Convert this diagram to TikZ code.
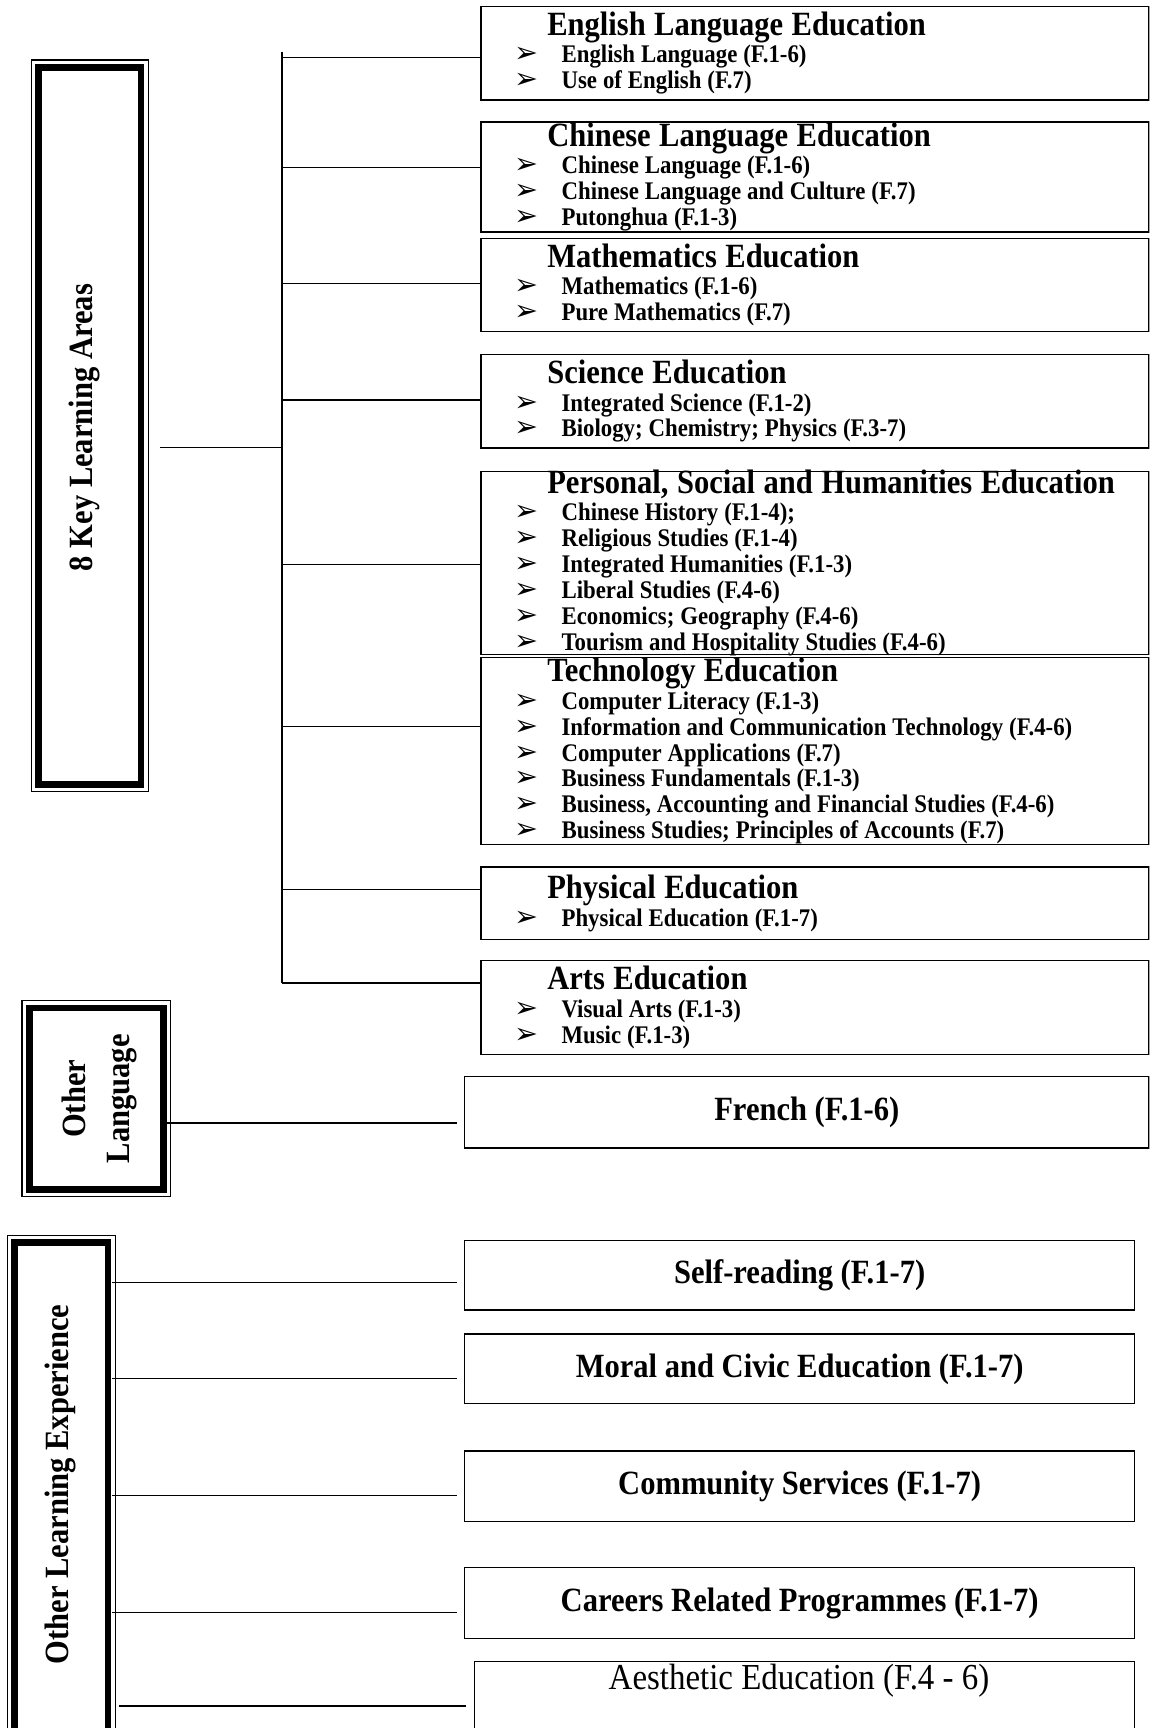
\documentclass[tikz,border=0pt]{standalone}
\usepackage{fontspec}
\setmainfont{Liberation Serif}[FakeStretch=0.9]
\newfontfamily\arrowfont{DejaVu Sans}

\newcommand{\itemfont}{\fontsize{11.5}{11.75}\selectfont\bfseries}
\newcommand{\bigfont}{\fontsize{15.4}{17}\selectfont\bfseries}
\newcommand{\hd}[1]{\hspace*{30pt}{\fontsize{15.4}{11.75}\selectfont #1}}
\newcommand{\itm}[1]{\hspace*{15pt}\makebox[21.5pt][l]{\arrowfont\fontsize{13}{11.75}\selectfont ➢}{\spaceskip=2.7pt\relax #1}}
\lineskiplimit=-20pt

\begin{document}
\begin{tikzpicture}[x=0.5pt, y=-0.5pt]
  \clip (0,0) rectangle (1043,1568);

  % framed titles on the left
  \begin{scope}[every node/.style={draw, line width=3pt, inner sep=0pt, outer sep=0pt}]
    \node[minimum width=46.5pt, minimum height=325.5pt] (kla) at (81.5,386.5) {};
    \node[minimum width=61pt, minimum height=82.5pt] (olang) at (87.5,997) {};
    \node[minimum width=42.5pt, minimum height=243pt] (ole) at (55.5,1370.5) {};
  \end{scope}
  \foreach \f in {kla,olang,ole}
    \draw[line width=0.6pt] ([shift={(-3.25pt,3.25pt)}]\f.north west) rectangle ([shift={(3.25pt,-3.25pt)}]\f.south east);

  \begin{scope}[every node/.style={font=\bigfont, rotate=90}]
    \node (kla-t) at (77,388) {8 Key Learning Areas};
    \node[align=center] (olang-t) at (90,997) {Other\\[3pt]Language};
    \node (ole-t) at (55,1347) {Other Learning Experience};
  \end{scope}

  % the eight learning areas
  \begin{scope}[every node/.style={draw, line width=0.6pt, anchor=north west, text width=303pt,
                inner xsep=0pt, inner ysep=-1pt, align=left, font=\itemfont}]
    \node[minimum height=42.5pt] (eng) at (436,5) {\hd{English Language Education}\\[0.75pt]
      \itm{English Language (F.1-6)}\\
      \itm{Use of English (F.7)}};
    \node[minimum height=50pt] (chi) at (436,110) {\hd{Chinese Language Education}\\[0.75pt]
      \itm{Chinese Language (F.1-6)}\\
      \itm{Chinese Language and Culture (F.7)}\\
      \itm{Putonghua (F.1-3)}};
    \node[minimum height=42pt] (mat) at (436,216) {\hd{Mathematics Education}\\[0.75pt]
      \itm{Mathematics (F.1-6)}\\
      \itm{Pure Mathematics (F.7)}};
    \node[minimum height=42.5pt] (sci) at (436,321) {\hd{Science Education}\\[0.75pt]
      \itm{Integrated Science (F.1-2)}\\
      \itm{Biology; Chemistry; Physics (F.3-7)}};
    \node[minimum height=83pt] (psh) at (436,427) {\hd{Personal, Social and Humanities Education}\\[0.75pt]
      \itm{Chinese History (F.1-4);}\\
      \itm{Religious Studies (F.1-4)}\\
      \itm{Integrated Humanities (F.1-3)}\\
      \itm{Liberal Studies (F.4-6)}\\
      \itm{Economics; Geography (F.4-6)}\\
      \itm{Tourism and Hospitality Studies (F.4-6)}};
    \node[minimum height=85pt] (tec) at (436,596) {\hd{Technology Education}\\[0.75pt]
      \itm{Computer Literacy (F.1-3)}\\
      \itm{Information and Communication Technology (F.4-6)}\\
      \itm{Computer Applications (F.7)}\\
      \itm{Business Fundamentals (F.1-3)}\\
      \itm{Business, Accounting and Financial Studies (F.4-6)}\\
      \itm{Business Studies; Principles of Accounts (F.7)}};
    \node[minimum height=33pt] (phy) at (436,786) {\hd{Physical Education}\\[0.75pt]
      \itm{Physical Education (F.1-7)}};
    \node[minimum height=42.5pt] (art) at (436,871) {\hd{Arts Education}\\[0.75pt]
      \itm{Visual Arts (F.1-3)}\\
      \itm{Music (F.1-3)}};
  \end{scope}

  % other language and other learning experience
  \begin{scope}[every node/.style={draw, line width=0.6pt, anchor=north west, inner sep=0pt, font=\bigfont}]
    \node[minimum width=310.5pt, minimum height=32.5pt] (fr) at (421,976) {French (F.1-6)};
    \node[minimum width=304pt, minimum height=31.5pt] (slf) at (421,1125) {Self-reading (F.1-7)};
    \node[minimum width=304pt, minimum height=31.5pt] (mor) at (421,1210) {Moral and Civic Education (F.1-7)};
    \node[minimum width=304pt, minimum height=32pt] (com) at (421,1316) {Community Services (F.1-7)};
    \node[minimum width=304pt, minimum height=32pt] (car) at (421,1422) {Careers Related Programmes (F.1-7)};
    \node[minimum width=299.5pt, minimum height=46.5pt] (aes) at (430,1507) {};
  \end{scope}
  \node[font=\fontsize{16.6}{18}\selectfont] (aes-t) at (725,1525) {Aesthetic Education (F.4 - 6)};

  % connectors
  \begin{scope}[every path/.style={line width=0.6pt}]
    \coordinate (trunk-top) at (256,47);
    \foreach \n/\y in {eng/52,chi/152,mat/257,sci/363,psh/512,tec/659,phy/807,art/892}{
      \coordinate (br-\n) at (256,\y);
      \draw (br-\n) -- (br-\n -| \n.west);
    }
    \draw (trunk-top) -- (br-art);
    \coordinate (kla-out) at (145,406);
    \draw (kla-out) -- (kla-out -| trunk-top);

    \coordinate (ol-fr) at (150,1019);
    \draw (ol-fr) -- ([xshift=-3pt]ol-fr -| fr.west);
    \foreach \n/\y in {slf/1164,mor/1251,com/1357,car/1463}{
      \coordinate (ol-\n) at (101.5,\y);
      \draw (ol-\n) -- ([xshift=-3pt]ol-\n -| \n.west);
    }
    \coordinate (ol-aes) at (108,1548);
    \draw (ol-aes) -- ([xshift=-3.5pt]ol-aes -| aes.west);
  \end{scope}
\end{tikzpicture}
\end{document}
